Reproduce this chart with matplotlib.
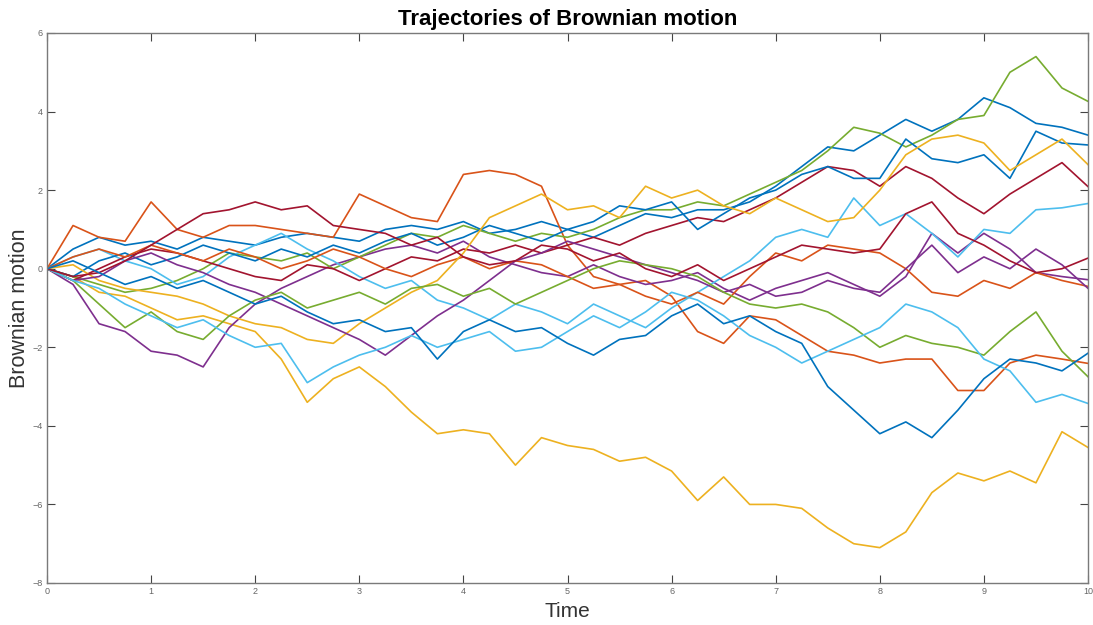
import matplotlib
matplotlib.use("Agg")
import matplotlib.pyplot as plt
import numpy as np

plt.rcParams['font.family'] = ['Liberation Sans', 'DejaVu Sans']

# time grid (read every 0.25)
time = np.arange(0, 10.001, 0.25)

# trajectories (value at each grid time)
traj_blue_1 = [0, 0.5, 0.8, 0.6, 0.7, 0.5, 0.8, 0.7, 0.6, 0.8, 0.9, 0.8, 0.7, 1.0, 1.1, 1.0, 1.2, 0.9, 1.0, 1.2,
               1.0, 0.8, 1.1, 1.4, 1.3, 1.5, 1.5, 1.7, 2.1, 2.6, 3.1, 3.0, 3.4, 3.8, 3.5, 3.8, 4.35, 4.1, 3.7, 3.6, 3.4]
traj_orange_1 = [0, 1.1, 0.8, 0.7, 1.7, 1.0, 0.8, 1.1, 1.1, 1.0, 0.9, 0.8, 1.9, 1.6, 1.3, 1.2, 2.4, 2.5, 2.4, 2.1,
                 0.6, -0.2, -0.4, -0.3, -0.7, -1.6, -1.9, -1.2, -1.3, -1.7, -2.1, -2.2, -2.4, -2.3, -2.3, -3.1, -3.1, -2.4, -2.2, -2.3, -2.41]
traj_yellow_1 = [0, -0.2, -0.6, -0.7, -1.0, -1.3, -1.2, -1.4, -1.6, -2.3, -3.4, -2.8, -2.5, -3.0, -3.65, -4.2, -4.1, -4.2, -5.0, -4.3,
                 -4.5, -4.6, -4.9, -4.8, -5.15, -5.9, -5.3, -6.0, -6.0, -6.1, -6.6, -7.0, -7.1, -6.7, -5.7, -5.2, -5.4, -5.15, -5.45, -4.15, -4.55]
traj_purple_1 = [0, -0.4, -1.4, -1.6, -2.1, -2.2, -2.5, -1.5, -0.9, -0.5, -0.2, 0.1, 0.3, 0.5, 0.6, 0.4, 0.7, 0.3, 0.1, -0.1,
                 -0.2, 0.1, -0.2, -0.4, -0.3, -0.1, -0.5, -0.8, -0.5, -0.3, -0.1, -0.4, -0.7, -0.2, 0.9, 0.4, 0.9, 0.5, -0.1, -0.2, -0.28]
traj_green_1 = [0, -0.2, -0.4, -0.6, -0.5, -0.3, 0.0, 0.4, 0.3, 0.2, 0.4, 0.0, 0.3, 0.6, 0.9, 0.8, 1.1, 0.9, 0.7, 0.9,
                0.8, 1.0, 1.3, 1.5, 1.5, 1.7, 1.6, 1.9, 2.2, 2.5, 3.0, 3.6, 3.45, 3.1, 3.4, 3.8, 3.9, 5.0, 5.4, 4.6, 4.26]
traj_cyan_1 = [0, 0.3, 0.5, 0.2, 0.0, -0.4, -0.2, 0.3, 0.6, 0.9, 0.5, 0.2, -0.2, -0.5, -0.3, -0.8, -1.0, -1.3, -0.9, -1.1,
               -1.4, -0.9, -1.2, -1.5, -1.0, -0.6, -0.2, 0.2, 0.8, 1.0, 0.8, 1.8, 1.1, 1.4, 0.9, 0.3, 1.0, 0.9, 1.5, 1.55, 1.66]
traj_red_1 = [0, -0.3, 0.0, 0.3, 0.5, 0.4, 0.2, 0.0, -0.2, -0.3, 0.1, 0.0, -0.3, 0.0, 0.3, 0.2, 0.5, 0.4, 0.6, 0.4,
              0.6, 0.8, 0.6, 0.9, 1.1, 1.3, 1.2, 1.5, 1.8, 2.2, 2.6, 2.5, 2.1, 2.6, 2.3, 1.8, 1.4, 1.9, 2.3, 2.7, 2.09]
traj_blue_2 = [0, -0.2, 0.2, 0.4, 0.1, 0.3, 0.6, 0.4, 0.2, 0.5, 0.3, 0.6, 0.4, 0.7, 0.9, 0.6, 0.8, 1.1, 0.9, 0.7,
               1.0, 1.2, 1.6, 1.5, 1.7, 1.0, 1.4, 1.8, 2.0, 2.4, 2.6, 2.3, 2.3, 3.3, 2.8, 2.7, 2.9, 2.3, 3.5, 3.2, 3.15]
traj_orange_2 = [0, 0.3, 0.5, 0.3, 0.6, 0.4, 0.2, 0.5, 0.3, 0.0, 0.2, 0.5, 0.3, 0.0, -0.2, 0.1, 0.3, 0.0, 0.2, 0.1,
                 -0.2, -0.5, -0.4, -0.7, -0.9, -0.6, -0.9, -0.2, 0.4, 0.2, 0.6, 0.5, 0.4, 0.0, -0.6, -0.7, -0.3, -0.5, -0.1, -0.3, -0.45]
traj_yellow_2 = [0, 0.1, -0.3, -0.5, -0.6, -0.7, -0.9, -1.2, -1.4, -1.5, -1.8, -1.9, -1.4, -1.0, -0.6, -0.3, 0.4, 1.3, 1.6, 1.9,
                 1.5, 1.6, 1.3, 2.1, 1.8, 2.0, 1.6, 1.4, 1.8, 1.5, 1.2, 1.3, 2.0, 2.9, 3.3, 3.4, 3.2, 2.5, 2.9, 3.3, 2.65]
traj_purple_2 = [0, -0.3, -0.2, 0.2, 0.4, 0.1, -0.1, -0.4, -0.6, -0.9, -1.2, -1.5, -1.8, -2.2, -1.7, -1.2, -0.8, -0.3, 0.2, 0.4,
                 0.7, 0.5, 0.3, 0.1, -0.1, -0.3, -0.6, -0.4, -0.7, -0.6, -0.3, -0.5, -0.6, 0.0, 0.6, -0.1, 0.3, 0.0, 0.5, 0.1, -0.5]
traj_green_2 = [0, -0.3, -0.9, -1.5, -1.1, -1.6, -1.8, -1.2, -0.8, -0.6, -1.0, -0.8, -0.6, -0.9, -0.5, -0.4, -0.7, -0.5, -0.9, -0.6,
                -0.3, 0.0, 0.2, 0.1, 0.0, -0.2, -0.6, -0.9, -1.0, -0.9, -1.1, -1.5, -2.0, -1.7, -1.9, -2.0, -2.2, -1.6, -1.1, -2.1, -2.75]
traj_cyan_2 = [0, -0.3, -0.5, -0.9, -1.2, -1.5, -1.3, -1.7, -2.0, -1.9, -2.9, -2.5, -2.2, -2.0, -1.7, -2.0, -1.8, -1.6, -2.1, -2.0,
               -1.6, -1.2, -1.5, -1.1, -0.6, -0.8, -1.2, -1.7, -2.0, -2.4, -2.1, -1.8, -1.5, -0.9, -1.1, -1.5, -2.3, -2.6, -3.4, -3.2, -3.43]
traj_red_2 = [0, -0.2, -0.1, 0.2, 0.6, 1.0, 1.4, 1.5, 1.7, 1.5, 1.6, 1.1, 1.0, 0.9, 0.6, 0.8, 0.3, 0.1, 0.2, 0.6,
              0.5, 0.2, 0.4, 0.0, -0.2, 0.1, -0.3, 0.0, 0.3, 0.6, 0.5, 0.4, 0.5, 1.4, 1.7, 0.9, 0.6, 0.2, -0.1, 0.0, 0.27]
traj_blue_3 = [0, 0.2, -0.1, -0.4, -0.2, -0.5, -0.3, -0.6, -0.9, -0.7, -1.1, -1.4, -1.3, -1.6, -1.5, -2.3, -1.6, -1.3, -1.6, -1.5,
               -1.9, -2.2, -1.8, -1.7, -1.2, -0.9, -1.4, -1.2, -1.6, -1.9, -3.0, -3.6, -4.2, -3.9, -4.3, -3.6, -2.8, -2.3, -2.4, -2.6, -2.15]

series = [traj_blue_1, traj_orange_1, traj_yellow_1, traj_purple_1, traj_green_1, traj_cyan_1, traj_red_1,
          traj_blue_2, traj_orange_2, traj_yellow_2, traj_purple_2, traj_green_2, traj_cyan_2, traj_red_2,
          traj_blue_3]

colors = ["#0072BD", "#D95319", "#EDB120", "#7E2F8E", "#77AC30", "#4DBEEE", "#A2142F"]

fig = plt.figure(figsize=(10.93, 6.25), dpi=100)
ax = fig.add_axes([47/1093, 1 - 583/625, (1088 - 47)/1093, (583 - 33)/625])

for i, s in enumerate(series):
    ax.plot(time, s, color=colors[i % len(colors)], lw=1.2)

ax.set_xlim(0, 10)
ax.set_ylim(-8, 6)
ax.set_xticks(range(0, 11))
ax.set_yticks(range(-8, 7, 2))
for sp in ax.spines.values():
    sp.set_color("#7a7a7a")
    sp.set_linewidth(1.0)
ax.tick_params(direction="in", top=True, right=True, length=6, width=0.8,
               color="#444444", labelsize=6.5, labelcolor="#666666", pad=3)
ax.set_title("Trajectories of Brownian motion", fontsize=16, fontweight="bold", pad=6)
ax.set_xlabel("Time", fontsize=15, color="#333333", labelpad=4)
ax.set_ylabel("Brownian motion", fontsize=15.5, color="#333333")
ax.yaxis.set_label_coords(-0.0165, 0.5)

fig.savefig("out.png", dpi=100)
